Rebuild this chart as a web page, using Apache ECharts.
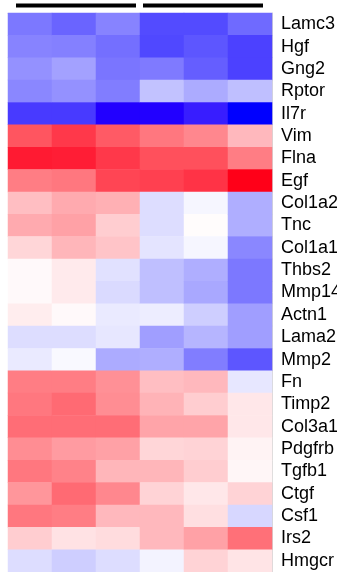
<!DOCTYPE html>
<html>
<head>
<meta charset="utf-8">
<script src="https://cdn.jsdelivr.net/npm/echarts@6/dist/echarts.min.js"></script>
<style>
  html, body { margin: 0; padding: 0; background: #ffffff; }
  #chart { width: 337px; height: 572px; }
</style>
</head>
<body>
<div id="chart"></div>
<script>
// Genes, top to bottom
const genes = ['Lamc3', 'Hgf', 'Gng2', 'Rptor', 'Il7r', 'Vim', 'Flna', 'Egf', 'Col1a2', 'Tnc',
  'Col1a1', 'Thbs2', 'Mmp14', 'Actn1', 'Lama2', 'Mmp2', 'Fn', 'Timp2', 'Col3a1', 'Pdgfrb',
  'Tgfb1', 'Ctgf', 'Csf1', 'Irs2', 'Hmgcr'];

// Samples, left to right (two groups of three)
const samples = ['A1', 'A2', 'A3', 'B1', 'B2', 'B3'];
const groups = [[0, 2], [3, 5]];

// Scaled expression per sample, one value per gene in the order above
const sampleA1 = [-0.43, -0.39, -0.35, -0.38, -0.64, 0.60, 0.84, 0.45, 0.22, 0.29, 0.14, 0.02, 0.02, 0.06, -0.11, -0.07, 0.45, 0.47, 0.51, 0.39, 0.47, 0.36, 0.47, 0.17, -0.11];
const sampleA2 = [-0.50, -0.40, -0.30, -0.35, -0.64, 0.71, 0.82, 0.47, 0.29, 0.32, 0.25, 0.07, 0.07, 0.02, -0.11, -0.02, 0.45, 0.52, 0.51, 0.34, 0.43, 0.52, 0.45, 0.10, -0.16];
const sampleA3 = [-0.39, -0.46, -0.44, -0.41, -0.83, 0.58, 0.71, 0.66, 0.27, 0.17, 0.20, -0.10, -0.12, -0.07, -0.08, -0.27, 0.38, 0.39, 0.51, 0.32, 0.25, 0.41, 0.24, 0.12, -0.11];
const sampleB1 = [-0.59, -0.60, -0.42, -0.20, -0.83, 0.47, 0.62, 0.68, -0.11, -0.11, -0.09, -0.21, -0.21, -0.06, -0.31, -0.26, 0.22, 0.26, 0.31, 0.14, 0.25, 0.15, 0.24, 0.24, -0.04];
const sampleB2 = [-0.59, -0.55, -0.52, -0.27, -0.72, 0.41, 0.62, 0.73, -0.03, 0.01, -0.03, -0.26, -0.28, -0.16, -0.24, -0.41, 0.24, 0.17, 0.31, 0.15, 0.17, 0.08, 0.11, 0.32, 0.15];
const sampleB3 = [-0.48, -0.62, -0.62, -0.21, -1.00, 0.24, 0.45, 1.00, -0.26, -0.26, -0.38, -0.43, -0.43, -0.31, -0.31, -0.55, -0.08, 0.08, 0.08, 0.04, 0.03, 0.15, -0.13, 0.50, 0.09];

const columns = [sampleA1, sampleA2, sampleA3, sampleB1, sampleB2, sampleB3];

// Blue - white - red ramp
const ramp = ['#0000ff', '#2800ff', '#5048ff', '#8480ff', '#c2c2ff', '#ffffff',
  '#ffc4c8', '#ff8a90', '#ff5560', '#ff2038', '#ff0018'];

const cells = [];
columns.forEach((col, x) => col.forEach((v, y) => cells.push([x, y, v])));

const chart = echarts.init(document.getElementById('chart'), null, { renderer: 'canvas' });

chart.setOption({
  animation: false,
  backgroundColor: '#ffffff',
  grid: { left: 8, right: 65, top: 13, bottom: 0, containLabel: false, outerBoundsMode: 'none' },
  xAxis: {
    type: 'category',
    data: samples,
    position: 'top',
    axisLine: { show: true, lineStyle: { color: '#d6d6d6', width: 1 } },
    axisTick: { show: false },
    axisLabel: { show: false },
    splitLine: { show: false }
  },
  yAxis: {
    type: 'category',
    data: genes,
    inverse: true,
    position: 'right',
    axisLine: { show: true, lineStyle: { color: '#d6d6d6', width: 1 } },
    axisTick: { show: false },
    axisLabel: {
      interval: 0,
      hideOverlap: false,
      color: '#000000',
      fontSize: 18,
      fontFamily: '"Liberation Sans", Arial, sans-serif',
      margin: 9
    },
    splitLine: { show: false }
  },
  visualMap: {
    show: false,
    type: 'continuous',
    min: -1,
    max: 1,
    dimension: 2,
    inRange: { color: ramp }
  },
  series: [{
    type: 'heatmap',
    data: cells,
    itemStyle: { borderWidth: 0 },
    emphasis: { disabled: true }
  }]
});

// Group bars above the columns
const band = chart.getModel().getComponent('grid').coordinateSystem.getRect().width / samples.length;
const bars = groups.map(([a, b], i) => {
  const left = chart.convertToPixel({ xAxisIndex: 0 }, samples[a]) - band / 2;
  const right = chart.convertToPixel({ xAxisIndex: 0 }, samples[b]) + band / 2;
  const x0 = left + (i === 0 ? 8 : 3);
  const x1 = right - (i === 0 ? 4 : 9);
  return {
    type: 'rect',
    shape: { x: x0, y: 3.5, width: x1 - x0, height: 4 },
    style: { fill: '#000000' },
    silent: true
  };
});
chart.setOption({ graphic: bars });
</script>
</body>
</html>
